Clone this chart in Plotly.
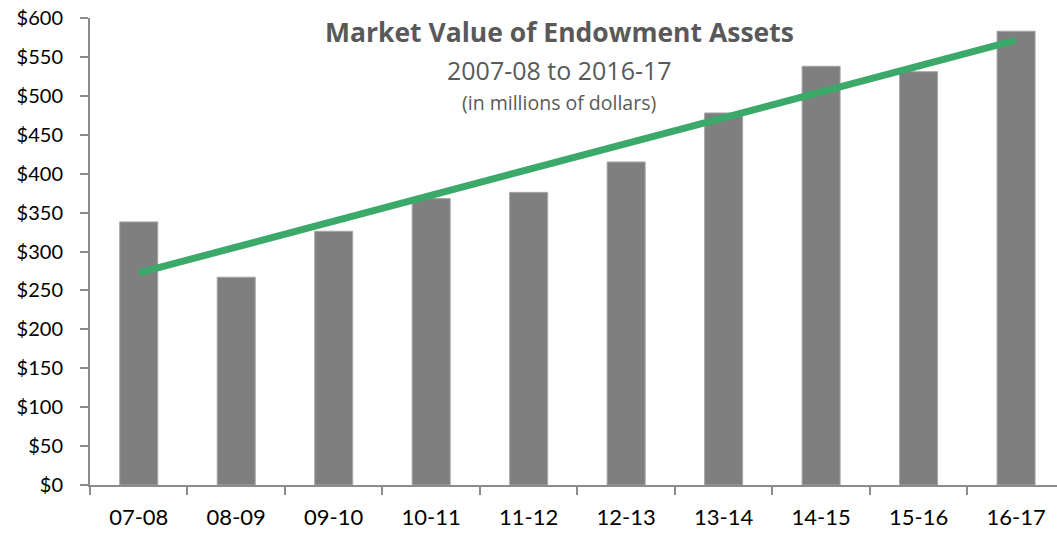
import numpy as np
import plotly.graph_objects as go

categories = ["07-08", "08-09", "09-10", "10-11", "11-12", "12-13", "13-14", "14-15", "15-16", "16-17"]
values = [338, 267, 326, 368, 376, 415, 478, 538, 531, 583]
y_ticks = list(range(0, 601, 50))
y_tick_labels = ["$" + str(v) for v in y_ticks]

idx = np.arange(len(values))
slope, intercept = np.polyfit(idx, values, 1)
trend = [slope * i + intercept for i in idx]

fig = go.Figure()
fig.add_trace(go.Bar(
    x=categories, y=values, width=0.39,
    marker=dict(color="#7f7f7f", line=dict(color="#a6a6a6", width=1)),
    showlegend=False, hoverinfo="y"
))
fig.add_trace(go.Scatter(
    x=categories, y=trend, mode="lines",
    line=dict(color="#3aa96a", width=7),
    showlegend=False, hoverinfo="skip"
))

font_family = "Lato, Open Sans, sans-serif"
title_family = "Open Sans, Lato, sans-serif"
W, H = 1057, 533
L, T, B = 90, 18, 48
fig.update_layout(
    width=W, height=H,
    margin=dict(l=L, r=0, t=T, b=B, autoexpand=False),
    plot_bgcolor="white", paper_bgcolor="white",
    font=dict(family=font_family, color="black", size=20),
    xaxis=dict(
        type="category", range=[-0.5, 9.42], automargin=False,
        showline=True, linecolor="#8c8c8c", linewidth=2,
        ticks="outside", tickson="boundaries", ticklen=8, tickcolor="#8c8c8c", tickwidth=2,
        tickfont=dict(size=22, color="black"), showgrid=False, ticklabelstandoff=12,
    ),
    yaxis=dict(
        range=[0, 600], tickvals=y_ticks, ticktext=y_tick_labels, automargin=False,
        showline=True, linecolor="#8c8c8c", linewidth=2,
        ticks="outside", ticklen=8, tickcolor="#8c8c8c", tickwidth=2,
        tickfont=dict(size=20, color="black"), showgrid=False, zeroline=False,
        ticklabelstandoff=13,
    ),
)
pw = W - L
ph = H - T - B
def px(xp):
    return (xp - L) / pw
def py(yp):
    return (H - B - yp) / ph
common = dict(xref="paper", yref="paper", showarrow=False, xanchor="center", yanchor="middle")
fig.add_annotation(text="<b>Market Value of Endowment Assets</b>", x=px(559), y=py(32),
                   font=dict(size=26.5, color="#595959", family=title_family), **common)
fig.add_annotation(text="2007-08 to 2016-17", x=px(559), y=py(70),
                   font=dict(size=25, color="#595959", family=title_family), **common)
fig.add_annotation(text="(in millions of dollars)", x=px(559), y=py(102),
                   font=dict(size=19.5, color="#595959", family=title_family), **common)

fig.write_html("out.html", config={"displayModeBar": False},
               post_script="document.body.style.margin='0';")
